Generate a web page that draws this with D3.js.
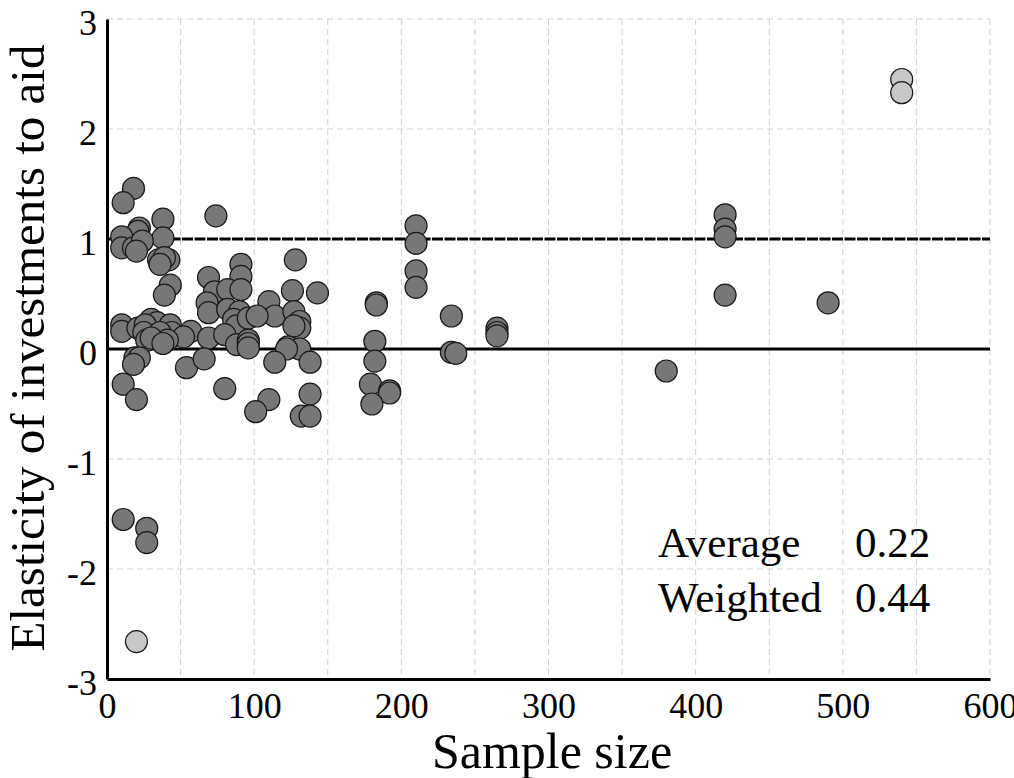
<!DOCTYPE html>
<html>
<head>
<meta charset="utf-8">
<script src="https://cdn.jsdelivr.net/npm/d3@7"></script>
<style>
body { margin: 0; background: #fff; }
text { font-family: "Liberation Serif", "DejaVu Serif", serif; fill: #000; }
.grid line { stroke: #d0d0d0; stroke-width: 1; stroke-dasharray: 6,4; }
.dot { stroke: #1a1a1a; stroke-width: 1.2; }
</style>
</head>
<body>
<script>
// sample size / elasticity
var sampleSize = [420,420,420,420,490,380,
  210,210,210,210,183,183,234,182,182,179,192,192,180,234,237,265,265,265,
  128,126,143,110,114,127,131,131,127,123,131,122,114,138,110,138,132,138,101,
  74,91,91,69,73,82,91,68,69,82,90,86,88,96,102,57,69,80,88,96,96,96,54,66,80,
  18,11,38,22,21,10,38,10,18,24,20,35,42,39,36,43,39,
  10,10,21,30,34,26,25,27,43,44,36,52,41,30,38,19,22,18,11,20,
  11,27,27];
var elasticity = [1.22,1.09,1.02,0.49,0.42,-0.20,
  1.12,0.96,0.71,0.56,0.42,0.40,0.30,0.07,-0.11,-0.32,-0.38,-0.40,-0.50,-0.03,-0.04,0.19,0.15,0.12,
  0.81,0.53,0.51,0.43,0.30,0.34,0.25,0.19,0.21,0.02,0.00,0.00,-0.12,-0.12,-0.46,-0.41,-0.61,-0.61,-0.57,
  1.21,0.77,0.66,0.65,0.52,0.54,0.54,0.42,0.33,0.36,0.34,0.27,0.21,0.28,0.30,0.16,0.10,0.13,0.04,0.08,0.05,0.01,-0.17,-0.09,-0.36,
  1.46,1.33,1.18,1.10,1.07,1.02,1.01,0.92,0.92,0.98,0.89,0.81,0.81,0.83,0.77,0.58,0.49,
  0.22,0.16,0.19,0.27,0.24,0.22,0.15,0.08,0.22,0.15,0.15,0.11,0.08,0.10,0.05,-0.08,-0.08,-0.14,-0.32,-0.46,
  -1.55,-1.63,-1.76];
// outliers drawn in light grey
var outlierSize = [540,540,20];
var outlierElasticity = [2.45,2.33,-2.66];

var xTicks = [0,100,200,300,400,500,600];
var yTicks = [-3,-2,-1,0,1,2,3];
var xGrid = d3.range(50,601,50);
var yGrid = [-2,-1,1,2,3];

var width = 1014, height = 778;
var x = d3.scaleLinear().domain([0,600]).range([107,990]);
var y = d3.scaleLinear().domain([-3,3]).range([679,19]);

var svg = d3.select("body").append("svg")
    .attr("width", width)
    .attr("height", height);

// dashed grid
var grid = svg.append("g").attr("class","grid");
grid.selectAll(".gx").data(xGrid).enter().append("line")
  .attr("x1", function(d){return x(d);}).attr("x2", function(d){return x(d);})
  .attr("y1", y(3)).attr("y2", y(-3));
grid.selectAll(".gy").data(yGrid).enter().append("line")
  .attr("y1", function(d){return y(d);}).attr("y2", function(d){return y(d);})
  .attr("x1", x(0)).attr("x2", x(600));

// reference lines at 0 and 1
svg.append("line").attr("x1", x(0)).attr("x2", x(600))
  .attr("y1", y(0)).attr("y2", y(0))
  .attr("stroke","#000").attr("stroke-width",3);
svg.append("line").attr("x1", x(0)).attr("x2", x(600))
  .attr("y1", y(1)).attr("y2", y(1))
  .attr("stroke","#000").attr("stroke-width",3).attr("stroke-dasharray","11,1.5");

// axes
var xAxis = svg.append("g").attr("transform","translate(0," + y(-3) + ")")
  .call(d3.axisBottom(x).tickValues(xTicks).tickSize(0).tickPadding(13));
var yAxis = svg.append("g").attr("transform","translate(" + x(0) + ",0)")
  .call(d3.axisLeft(y).tickValues(yTicks).tickSize(0).tickPadding(10)
    .tickFormat(function(d){ return d < 0 ? "-" + Math.abs(d) : "" + d; }));
[xAxis, yAxis].forEach(function(a){
  a.select(".domain").attr("stroke","#000").attr("stroke-width",3);
  a.selectAll("text").attr("font-size",36).attr("font-family","Liberation Serif");
});
yAxis.selectAll("text").attr("dy","0.42em");

// points
var pts = sampleSize.map(function(s,i){return {x:s, y:elasticity[i]};});
svg.append("g").selectAll("circle").data(pts).enter().append("circle")
  .attr("class","dot")
  .attr("cx", function(d){return x(d.x);})
  .attr("cy", function(d){return y(d.y);})
  .attr("r", 11)
  .attr("fill", "#777");
var outs = outlierSize.map(function(s,i){return {x:s, y:outlierElasticity[i]};});
svg.append("g").selectAll("circle").data(outs).enter().append("circle")
  .attr("class","dot")
  .attr("cx", function(d){return x(d.x);})
  .attr("cy", function(d){return y(d.y);})
  .attr("r", 11)
  .attr("fill", "#c8c8c8");

// titles
svg.append("text").attr("x", 552).attr("y", 768)
  .attr("text-anchor","middle").attr("font-size",50).text("Sample size");
svg.append("text").attr("transform","translate(44,348) rotate(-90)")
  .attr("text-anchor","middle").attr("font-size",49).text("Elasticity of investments to aid");

// summary box
svg.append("text").attr("x",658).attr("y",557).attr("font-size",43).text("Average");
svg.append("text").attr("x",855).attr("y",557).attr("font-size",43).text("0.22");
svg.append("text").attr("x",658).attr("y",612).attr("font-size",43).text("Weighted");
svg.append("text").attr("x",855).attr("y",612).attr("font-size",43).text("0.44");
</script>
</body>
</html>
